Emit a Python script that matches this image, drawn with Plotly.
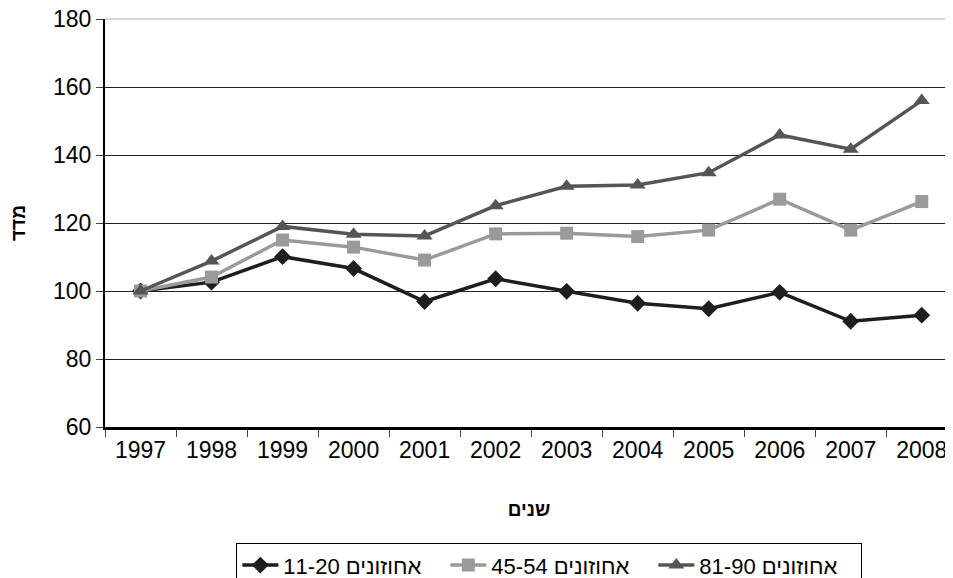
import plotly.graph_objects as go

years = ["1997", "1998", "1999", "2000", "2001", "2002", "2003", "2004", "2005", "2006", "2007", "2008"]
p11_20 = [100, 102.6, 110.1, 106.6, 96.9, 103.6, 99.9, 96.4, 94.8, 99.6, 91.1, 92.9]
p45_54 = [100, 104.1, 115.0, 112.9, 109.1, 116.8, 117.0, 116.0, 117.9, 127.0, 117.9, 126.3]
p81_90 = [100, 108.8, 119.0, 116.7, 116.2, 125.1, 130.8, 131.2, 134.8, 145.9, 141.7, 156.0]
series_names = ["אחוזונים 11-20", "אחוזונים 45-54", "אחוזונים 81-90"]
y_ticks = [60, 80, 100, 120, 140, 160, 180]

FONT = "Liberation Sans, Arial, sans-serif"

fig = go.Figure()
styles = [
    dict(color="#1e1e1e", symbol="diamond", size=13),
    dict(color="#9a9a9a", symbol="square", size=13),
    dict(color="#555555", symbol="triangle-up", size=14),
]
for name, vals, st in zip(series_names, [p11_20, p45_54, p81_90], styles):
    fig.add_trace(go.Scatter(
        x=years, y=vals, name=name, mode="lines+markers",
        line=dict(color=st["color"], width=3.5),
        marker=dict(symbol=st["symbol"], size=st["size"], color=st["color"]),
    ))

# light top border of the plot area
fig.add_shape(type="line", xref="paper", yref="paper", x0=0, x1=1,
              y0=1, y1=1, line=dict(color="#c8c8c8", width=1.5))

fig.update_layout(
    width=945, height=570,
    margin=dict(l=97, r=0, t=11, b=151, autoexpand=False),
    paper_bgcolor="white", plot_bgcolor="white",
    font=dict(family=FONT, color="#000"),
    showlegend=True,
    legend=dict(
        orientation="h", x=0.524, xanchor="center", y=-0.285, yanchor="top",
        bordercolor="#000", borderwidth=1, bgcolor="white",
        font=dict(size=22, family=FONT), itemwidth=36,
        entrywidth=157, entrywidthmode="pixels",
        traceorder="normal",
    ),
)
fig.update_xaxes(
    type="category", range=[-0.5, 11.44], automargin=False,
    showline=True, linecolor="#000", linewidth=3,
    ticks="outside", tickson="boundaries", ticklen=7, tickcolor="#444", tickwidth=1,
    tickfont=dict(size=23, family=FONT), ticklabeloverflow="allow",
    showgrid=False,
    title=dict(text="<b>שנים</b>", font=dict(size=19, family=FONT), standoff=42),
)
fig.update_yaxes(
    range=[60, 180], tickvals=y_ticks, automargin=False,
    showline=True, linecolor="#000", linewidth=2,
    ticks="outside", ticklen=7, tickcolor="#444", tickwidth=1,
    tickfont=dict(size=23, family=FONT), ticklabeloverflow="allow",
    showgrid=True, gridcolor="#222", gridwidth=1,
    zeroline=False,
    title=dict(text="<b>מדד</b>", font=dict(size=19, family=FONT), standoff=29),
)

fig.write_html("out.html")
